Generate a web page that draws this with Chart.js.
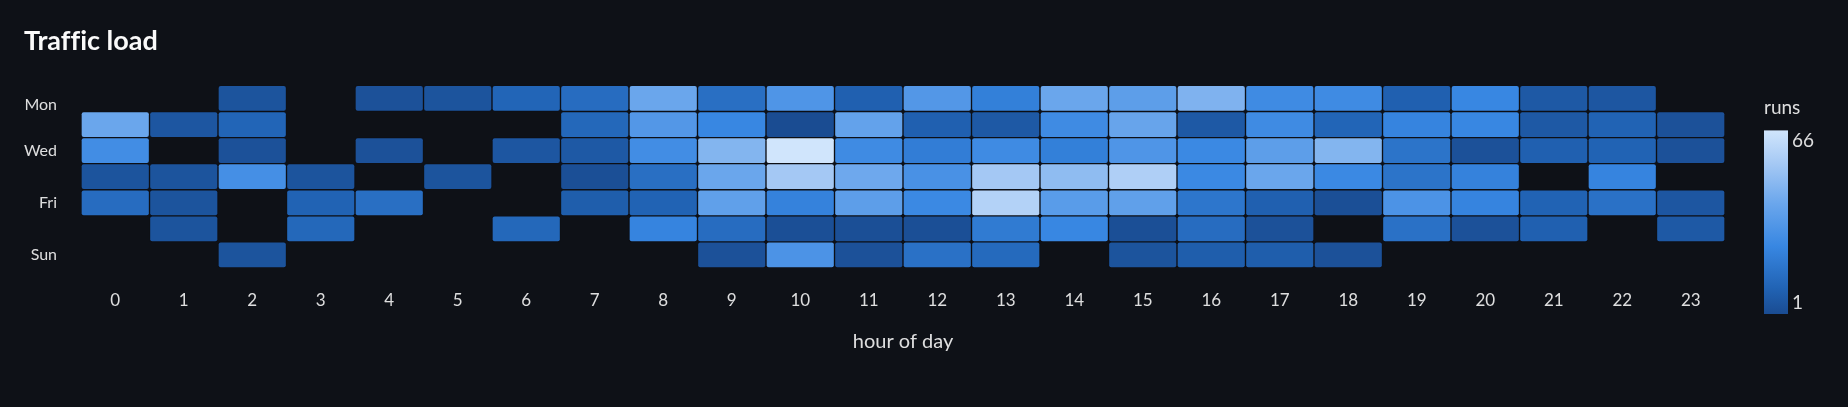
<!DOCTYPE html>
<html>
<head>
<meta charset="utf-8">
<title>Traffic load</title>
<script src="https://cdn.jsdelivr.net/npm/chart.js@4.4.1/dist/chart.umd.min.js"></script>
<style>
  html, body { margin: 0; padding: 0; background: #0e1117; }
  #wrap { width: 1848px; height: 407px; }
  canvas { font-variant-ligatures: none; }
</style>
</head>
<body>
<div id="wrap"><canvas id="traffic-chart"></canvas></div>
<script>
// hours on x, weekdays on y
const hours = ['0', '1', '2', '3', '4', '5', '6', '7', '8', '9', '10', '11',
    '12', '13', '14', '15', '16', '17', '18', '19', '20', '21', '22', '23'];
const days = ['Mon', 'Tue', 'Wed', 'Thu', 'Fri', 'Sat', 'Sun'];
const dayTickLabels = ['Mon', 'Wed', 'Fri', 'Sun'];
const runsTicks = [1, 66];

// runs per hour, null = nothing ran
const mon = [null, null, 4, null, 3, 4, 11, 14, 40, 15, 32, 9, 33, 22, 40, 36, 45, 27, 27, 9, 25, 6, 5, null];
const tue = [40, 5, 11, null, null, null, null, 12, 33, 25, 1, 38, 9, 6, 27, 39, 6, 27, 11, 24, 25, 6, 10, 3];
const wed = [28, null, 3, null, 3, null, 5, 6, 28, 46, 66, 27, 21, 27, 22, 32, 26, 36, 46, 17, 3, 9, 10, 3];
const thu = [4, 4, 29, 4, null, 4, null, 2, 15, 40, 54, 41, 30, 54, 49, 57, 26, 40, 26, 17, 23, null, 24, null];
const fri = [14, 4, null, 10, 15, null, null, 8, 10, 37, 23, 36, 26, 58, 35, 37, 18, 9, 2, 31, 24, 10, 16, 5];
const sat = [null, 4, null, 12, null, null, 12, null, 24, 14, 2, 2, 2, 20, 25, 2, 14, 3, null, 16, 3, 9, null, 6];
const sun = [null, null, 4, null, null, null, null, null, null, 3, 31, 3, 16, 13, null, 4, 8, 8, 3, null, null, null, null, null];

const runs = [mon, tue, wed, thu, fri, sat, sun];

// colour ramp, dark blue -> pale blue
const ramp = [
    [0, [26, 76, 146]],
    [0.14, [33, 99, 180]],
    [0.37, [56, 135, 226]],
    [0.6, [106, 166, 236]],
    [0.815, [164, 200, 244]],
    [1, [208, 229, 252]],
];

function shade(v) {
    let t = (v - runsTicks[0]) / (runsTicks[1] - runsTicks[0]);
    t = Math.max(0, Math.min(1, t));
    for (let i = 1; i < ramp.length; i++) {
        if (t <= ramp[i][0]) {
            const [t0, c0] = ramp[i - 1];
            const [t1, c1] = ramp[i];
            const f = (t - t0) / (t1 - t0);
            const c = c0.map((x, k) => Math.round(x + (c1[k] - x) * f));
            return `rgb(${c[0]}, ${c[1]}, ${c[2]})`;
        }
    }
    const c = ramp[ramp.length - 1][1];
    return `rgb(${c[0]}, ${c[1]}, ${c[2]})`;
}

const FONT = 'Lato, "Noto Sans", sans-serif';
const TEXT = 'rgba(250, 250, 250, 0.88)';

const datasets = days.map((day, d) => ({
    label: day,
    data: runs[d].map(v => (v === null ? null : [d, d + 1])),
    backgroundColor: ctx => {
        const v = runs[ctx.datasetIndex][ctx.dataIndex];
        return v === null ? 'transparent' : shade(v);
    },
    borderColor: 'rgba(14, 17, 23, 0.32)',
    borderWidth: 1,
    borderRadius: 3,
    borderSkipped: false,
    grouped: false,
    barPercentage: 1,
    categoryPercentage: 1,
}));

// no ligatures in canvas text (keeps "ffi" as three letters)
const plainText = {
    id: 'plainText',
    beforeDraw(chart) {
        chart.ctx.textRendering = 'optimizeSpeed';
    }
};

// colour bar legend on the right
const colourBar = {
    id: 'colourBar',
    afterDraw(chart) {
        const {ctx, chartArea} = chart;
        const x = chartArea.right + 39;
        const top = chartArea.top + 45;
        const bottom = chartArea.bottom + 46;
        const w = 24;
        const g = ctx.createLinearGradient(0, bottom, 0, top);
        ramp.forEach(([t, c]) => g.addColorStop(t, `rgb(${c[0]}, ${c[1]}, ${c[2]})`));
        ctx.save();
        ctx.fillStyle = g;
        ctx.fillRect(x, top, w, bottom - top);

        ctx.fillStyle = TEXT;
        ctx.font = `19px ${FONT}`;
        ctx.textAlign = 'left';
        ctx.textBaseline = 'alphabetic';
        ctx.fillText('runs', x, top - 16);
        ctx.textBaseline = 'middle';
        ctx.fillText(String(runsTicks[1]), x + w + 4, top + 10);
        ctx.fillText(String(runsTicks[0]), x + w + 4, bottom - 11);
        ctx.restore();
    }
};

const config = {
    type: 'bar',
    data: {
        labels: hours,
        datasets,
    },
    options: {
        responsive: true,
        maintainAspectRatio: false,
        animation: false,
        layout: {
            padding: { top: 25, left: 24, right: 123, bottom: 0 },
        },
        plugins: {
            legend: { display: false },
            tooltip: { enabled: false },
            title: {
                display: true,
                text: 'Traffic load',
                align: 'start',
                color: '#fafafa',
                font: { family: FONT, size: 27, weight: 'bold' },
                padding: { top: 0, bottom: 28 },
            },
        },
        scales: {
            x: {
                grid: { display: false, drawTicks: false },
                border: { display: false },
                ticks: {
                    color: TEXT,
                    font: { family: FONT, size: 17 },
                    padding: 22,
                    maxRotation: 0,
                    autoSkip: false,
                },
                title: {
                    display: true,
                    text: 'hour of day',
                    color: TEXT,
                    font: { family: FONT, size: 20 },
                    padding: { top: 0, bottom: 53 },
                },
                afterFit: scale => { scale.height = 139; },
            },
            y: {
                type: 'linear',
                min: 0,
                max: days.length,
                reverse: true,
                grid: { display: false, drawTicks: false },
                border: { display: false },
                afterBuildTicks: scale => {
                    // first label sits a little lower, clear of the top edge
                    scale.ticks = dayTickLabels.map((l, i) => ({ value: days.indexOf(l) + (i === 0 ? 0.75 : 0.5) }));
                },
                ticks: {
                    color: TEXT,
                    font: { family: FONT, size: 16 },
                    padding: 24,
                    callback: value => days[Math.floor(value)],
                },
                afterFit: scale => { scale.width = 57; },
            },
        },
    },
    plugins: [plainText, colourBar],
};

const trafficChart = new Chart(document.getElementById('traffic-chart'), config);
</script>
</body>
</html>
